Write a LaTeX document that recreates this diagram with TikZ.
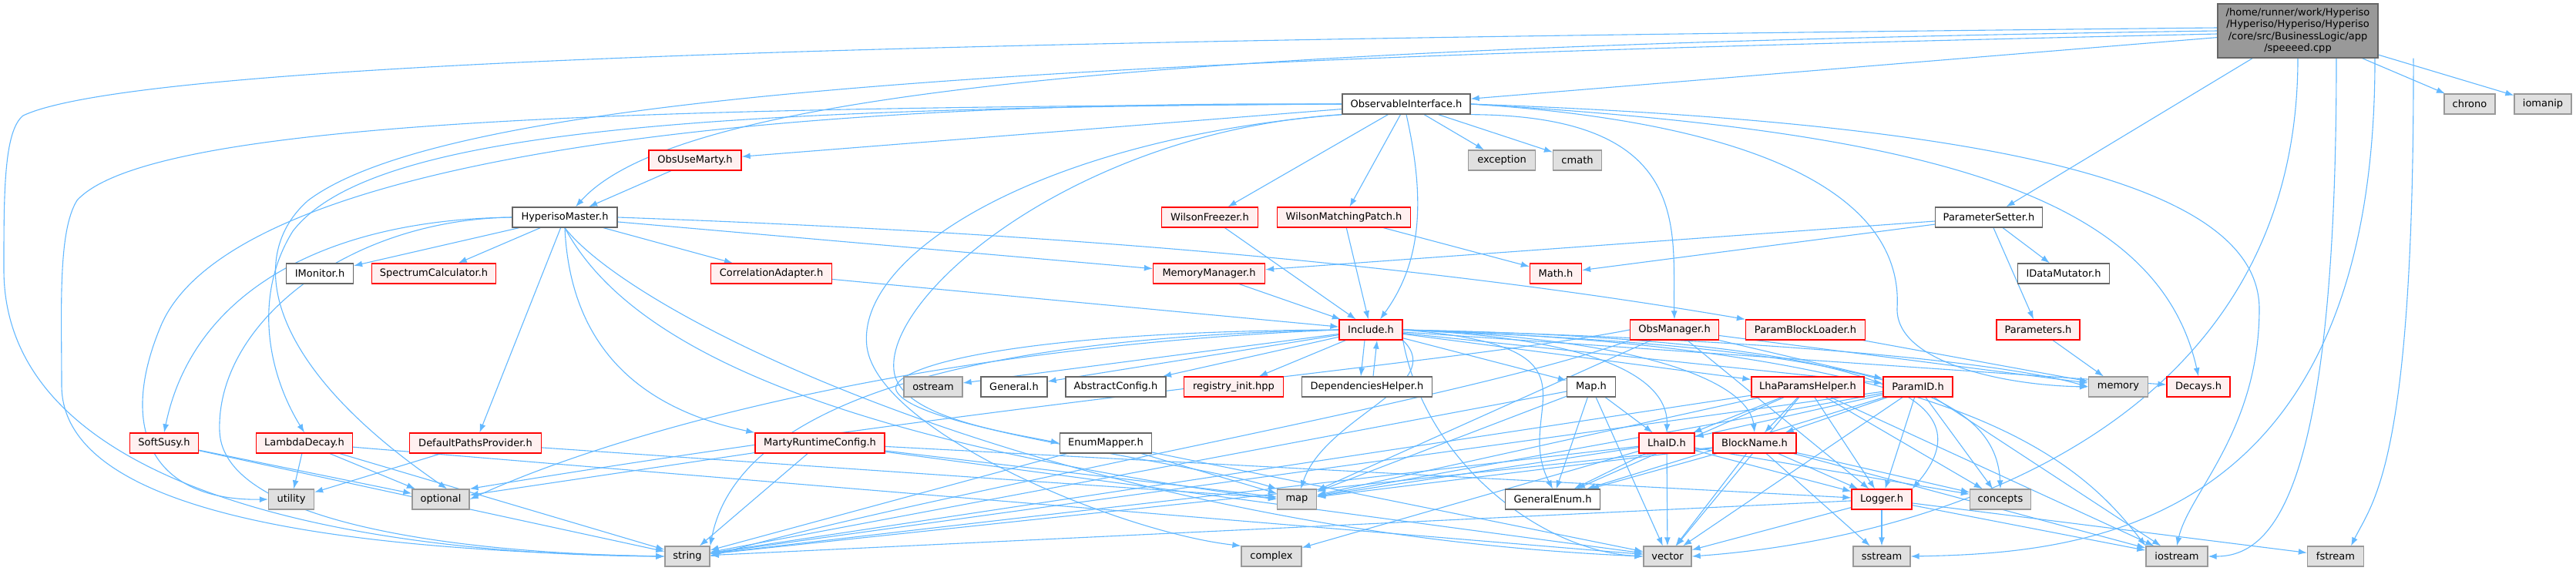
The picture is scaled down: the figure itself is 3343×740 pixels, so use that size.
\documentclass[tikz,border=0pt]{standalone}
\usepackage{fontspec}
\setmainfont{DejaVu Sans}
\usetikzlibrary{arrows.meta,backgrounds}
\definecolor{edgeblue}{HTML}{63B8FF}
\definecolor{redline}{HTML}{FF0000}
\definecolor{redfill}{HTML}{FFF0F0}
\definecolor{sysline}{HTML}{999999}
\definecolor{sysfill}{HTML}{E0E0E0}
\definecolor{docline}{HTML}{666666}
\definecolor{rootfill}{HTML}{999999}
\begin{document}
\begin{tikzpicture}[x=1pt,y=-1pt,
  box/.style={rectangle, minimum height=26pt, inner sep=3pt, line width=1.3pt, font=\fontsize{13}{15.5}\selectfont},
  docnode/.style={box, draw=docline, fill=white},
  rednode/.style={box, draw=redline, fill=redfill},
  sysnode/.style={box, draw=sysline, fill=sysfill},
  rootnode/.style={box, draw=docline, fill=rootfill, align=center, minimum height=70pt},
  dep/.style={color=edgeblue, line width=1.1pt, -{Latex[length=11pt,width=8pt]}}]
\useasboundingbox (0,0) rectangle (3343,740);
% nodes, rank by rank
\node[rootnode, minimum width=208pt] (root) at (2982,40) {/home/runner/work/Hyperiso\\/Hyperiso/Hyperiso/Hyperiso\\/core/src/BusinessLogic/app\\/speeeed.cpp};
\node[docnode, minimum width=166pt] (obsint) at (1825,135) {ObservableInterface.h};
\node[sysnode, minimum width=66pt] (chrono) at (3205,135) {chrono};
\node[sysnode, minimum width=74pt] (iomanip) at (3300,135) {iomanip};
\node[rednode, minimum width=120pt] (obsmarty) at (902,208) {ObsUseMarty.h};
\node[sysnode, minimum width=87pt] (exception) at (1949,208) {exception};
\node[sysnode, minimum width=63pt] (cmath) at (2047,208) {cmath};
\node[docnode, minimum width=136pt] (hypmaster) at (733,282) {HyperisoMaster.h};
\node[rednode, minimum width=125pt] (wfreezer) at (1570,282) {WilsonFreezer.h};
\node[rednode, minimum width=173pt] (wmatch) at (1744,282) {WilsonMatchingPatch.h};
\node[docnode, minimum width=139pt] (psetter) at (2581,282) {ParameterSetter.h};
\node[docnode, minimum width=87pt] (imonitor) at (415,355) {IMonitor.h};
\node[rednode, minimum width=161pt] (spectrum) at (563,355) {SpectrumCalculator.h};
\node[rednode, minimum width=157pt] (corradapt) at (1001,355) {CorrelationAdapter.h};
\node[rednode, minimum width=145pt] (memman) at (1569,355) {MemoryManager.h};
\node[rednode, minimum width=67pt] (mathh) at (2019,355) {Math.h};
\node[docnode, minimum width=119pt] (datamut) at (2678,355) {IDataMutator.h};
\node[rednode, minimum width=82pt] (include) at (1779,428) {Include.h};
\node[rednode, minimum width=115pt] (obsman) at (2173,428) {ObsManager.h};
\node[rednode, minimum width=155pt] (pblock) at (2343,428) {ParamBlockLoader.h};
\node[rednode, minimum width=108pt] (params) at (2645,428) {Parameters.h};
\node[sysnode, minimum width=76pt] (ostream) at (1211,502) {ostream};
\node[docnode, minimum width=86pt] (general) at (1316,502) {General.h};
\node[docnode, minimum width=130pt] (absconf) at (1448,502) {AbstractConfig.h};
\node[rednode, minimum width=129pt] (registry) at (1601,502) {registry\_init.hpp};
\node[docnode, minimum width=169pt] (dephelper) at (1774,502) {DependenciesHelper.h};
\node[docnode, minimum width=63pt] (maph) at (2065,502) {Map.h};
\node[rednode, minimum width=146pt] (lhahelper) at (2346,502) {LhaParamsHelper.h};
\node[rednode, minimum width=90pt] (paramid) at (2489,502) {ParamID.h};
\node[sysnode, minimum width=77pt] (memory) at (2749,502) {memory};
\node[rednode, minimum width=82pt] (decays) at (2853,502) {Decays.h};
\node[rednode, minimum width=89pt] (softsusy) at (213,575) {SoftSusy.h};
\node[rednode, minimum width=125pt] (lambda) at (395,575) {LambdaDecay.h};
\node[rednode, minimum width=171pt] (defpaths) at (617,575) {DefaultPathsProvider.h};
\node[rednode, minimum width=168pt] (marty) at (1064,575) {MartyRuntimeConfig.h};
\node[docnode, minimum width=119pt] (enummap) at (1435,575) {EnumMapper.h};
\node[rednode, minimum width=72pt] (lhaid) at (2163,575) {LhaID.h};
\node[rednode, minimum width=108pt] (blockname) at (2277,575) {BlockName.h};
\node[sysnode, minimum width=59pt] (utility) at (378,648) {utility};
\node[sysnode, minimum width=74pt] (optional) at (572,648) {optional};
\node[sysnode, minimum width=51pt] (map) at (1683,648) {map};
\node[docnode, minimum width=123pt] (genenum) at (2015,648) {GeneralEnum.h};
\node[rednode, minimum width=78pt] (logger) at (2442,648) {Logger.h};
\node[sysnode, minimum width=79pt] (concepts) at (2596,648) {concepts};
\node[sysnode, minimum width=58pt] (string) at (892,722) {string};
\node[sysnode, minimum width=78pt] (complex) at (1650,722) {complex};
\node[sysnode, minimum width=62pt] (vector) at (2164,722) {vector};
\node[sysnode, minimum width=74pt] (sstream) at (2442,722) {sstream};
\node[sysnode, minimum width=80pt] (iostream) at (2825,722) {iostream};
\node[sysnode, minimum width=73pt] (fstream) at (3031,722) {fstream};
\begin{pgfonlayer}{background}
% the cpp file
\path[dep] (root) edge (obsint) edge (psetter) edge (chrono) edge (iomanip);
\draw[dep] ([yshift=4pt]root.west) .. controls (1500,50) and (200,70) .. (30,150) .. controls (5,170) and (5,250) .. (5,350) .. controls (5,650) and (500,720) .. (string.west);
\draw[dep] (root.west) .. controls (1500,60) and (880,120) .. ([xshift=14pt]hypmaster.north);
\draw[dep] ([yshift=-4pt]root.west) .. controls (1500,75) and (600,110) .. (400,260) .. controls (320,330) and (340,470) .. ([xshift=8pt]optional.north);
\draw[dep] (root.south) .. controls (2982,560) and (2500,700) .. (vector.east);
\draw[dep] ([xshift=50pt]root.south) .. controls (3032,640) and (2950,722) .. (iostream.east);
\draw[dep] ([xshift=100pt]root.south) .. controls (3083,690) and (2700,718) .. (sstream.east);
\draw[dep] ([xshift=150pt]root.south) .. controls (3133,600) and (3080,650) .. ([xshift=20pt]fstream.north);
% ObservableInterface.h
\path[dep] (obsint) edge (obsmarty) edge (exception) edge (cmath) edge (wfreezer) edge (wmatch);
\draw[dep] (obsint.south) .. controls (1850,260) and (1845,340) .. ([xshift=12pt]include.north);
\draw[dep] (obsint.south east) .. controls (2200,150) and (2170,300) .. (obsman.north);
\draw[dep] (obsint.east) .. controls (2300,160) and (2470,260) .. (2462,400) .. controls (2460,470) and (2600,500) .. (memory.west);
\draw[dep] (obsint.east) .. controls (2500,170) and (2800,250) .. (decays.north);
\draw[dep] (obsint.east) .. controls (2600,160) and (2930,240) .. (2932,400) .. controls (2932,560) and (2840,640) .. (iostream.north);
\draw[dep] (obsint.west) .. controls (900,140) and (480,170) .. (380,300) .. controls (330,380) and (345,480) .. (lambda.north);
\draw[dep] (obsint.west) .. controls (900,130) and (300,220) .. (210,420) .. controls (150,560) and (200,650) .. (utility.west);
\draw[dep] (obsint.west) .. controls (900,140) and (200,150) .. (100,260) .. controls (75,300) and (80,400) .. (80,500) .. controls (80,680) and (500,715) .. (string.west);
\draw[dep] (obsint.south west) .. controls (1400,170) and (1150,380) .. (1160,480) .. controls (1165,540) and (1300,560) .. (enummap.west);
\draw[dep] (obsint.south west) .. controls (1350,180) and (1110,330) .. (1125,450) .. controls (1140,560) and (1450,690) .. (complex.north west);
% HyperisoMaster.h
\path[dep] (obsmarty) edge (hypmaster);
\path[dep] (hypmaster) edge (imonitor) edge (spectrum) edge (corradapt) edge (memman) edge (defpaths);
\draw[dep] (hypmaster.east) .. controls (1300,300) and (1800,335) .. (pblock.north west);
\draw[dep] (hypmaster.west) .. controls (420,285) and (250,380) .. (softsusy.north);
\draw[dep] (hypmaster.west) .. controls (450,285) and (280,420) .. (285,560) .. controls (290,680) and (600,718) .. (string.west);
\draw[dep] (hypmaster.south) .. controls (740,450) and (830,530) .. (marty.north west);
\draw[dep] (hypmaster.south) .. controls (800,420) and (1000,560) .. (map.west);
\draw[dep] (hypmaster.south) .. controls (830,420) and (1400,690) .. (vector.west);
% second row of headers
\path[dep] (wmatch) edge (mathh) edge (include);
\path[dep] (wfreezer) edge (include);
\path[dep] (memman) edge (include);
\path[dep] (corradapt) edge (include);
\path[dep] (psetter) edge (memman) edge (mathh) edge (datamut) edge (params);
\path[dep] (pblock) edge (memory);
\path[dep] (params) edge (memory);
% Include.h
\path[dep] (include) edge (ostream) edge (general) edge (absconf) edge (registry) edge (maph) edge (lhahelper) edge (paramid) edge (decays);
\draw[dep] ([xshift=-8pt]include.south) -- ([xshift=-8pt]dephelper.north);
\draw[dep] ([xshift=8pt]dephelper.north) -- ([xshift=8pt]include.south);
\draw[dep] (include.east) .. controls (2300,440) and (2600,470) .. (memory.west);
\draw[dep] (include.east) .. controls (2400,450) and (2590,500) .. (concepts.north);
\draw[dep] (include.east) .. controls (2450,440) and (2580,520) .. (logger.north east);
\draw[dep] (include.east) .. controls (2100,440) and (2165,500) .. (lhaid.north);
\draw[dep] (include.east) .. controls (2150,440) and (2270,500) .. (blockname.north);
\draw[dep] (include.east) .. controls (2100,450) and (1960,530) .. (genenum.north);
\draw[dep] (include.south east) .. controls (1850,600) and (2000,715) .. (vector.west);
\draw[dep] (include.east) .. controls (2550,450) and (2700,600) .. (iostream.north west);
\draw[dep] (include.west) .. controls (1150,440) and (950,560) .. (string.north east);
\draw[dep] (include.west) .. controls (1200,450) and (800,560) .. (optional.east);
\draw[dep] (include.west) .. controls (1300,430) and (1140,480) .. (1165,510) .. controls (1200,560) and (1550,600) .. (map.north west);
\draw[dep] (include.south east) .. controls (1880,500) and (1720,540) .. ([xshift=5pt]map.north);
% ObsManager.h
\path[dep] (obsman) edge (map) edge (memory) edge (paramid) edge (logger);
\draw[dep] (obsman.west) .. controls (1900,470) and (1300,520) .. (optional.north east);
\draw[dep] (obsman.south west) .. controls (1900,520) and (1200,640) .. (string.east);
% lower headers
\path[dep] (maph) edge (lhaid) edge (genenum) edge (map) edge (vector) edge (string);
\path[dep] (lhahelper) edge (blockname) edge (lhaid) edge (map) edge (genenum) edge (string) edge (vector) edge (logger) edge (concepts) edge (iostream);
\path[dep] (paramid) edge (blockname) edge (lhaid) edge (map) edge (genenum) edge (string) edge (vector) edge (logger) edge (concepts) edge (iostream);
\path[dep] (lhaid) edge (map) edge (genenum) edge (vector) edge (string) edge (logger) edge (concepts) edge (complex);
\path[dep] (blockname) edge (map) edge (genenum) edge (vector) edge (string) edge (logger) edge (concepts) edge (iostream) edge (sstream);
\path[dep] (enummap) edge (map) edge (string) edge (vector);
\path[dep] (marty) edge (optional) edge (string) edge (vector) edge (map) edge (logger);
\path[dep] (softsusy) edge (optional) edge (string);
\path[dep] (lambda) edge (utility) edge (optional) edge (string) edge (vector);
\path[dep] (defpaths) edge (utility) edge (map);
\path[dep] (logger) edge (sstream) edge (iostream) edge (fstream) edge (string) edge (vector);
\end{pgfonlayer}
\end{tikzpicture}
\end{document}
